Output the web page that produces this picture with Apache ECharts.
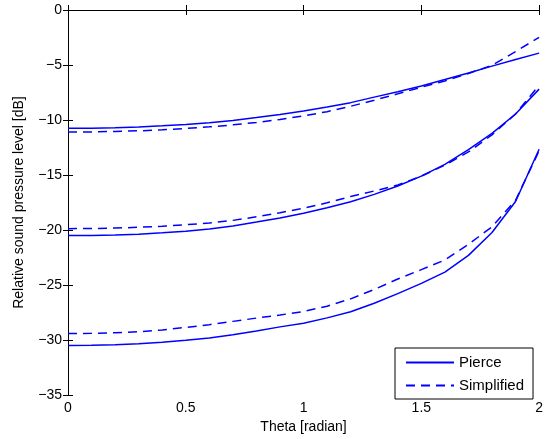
<!DOCTYPE html>
<html>
<head>
<meta charset="utf-8">
<script src="https://cdn.jsdelivr.net/npm/echarts@6/dist/echarts.min.js"></script>
<style>
html,body{margin:0;padding:0;background:#fff;}
#chart{width:546px;height:439px;}
</style>
</head>
<body>
<div id="chart"></div>
<script>
const theta = [0,0.1,0.2,0.3,0.4,0.5,0.6,0.7,0.8,0.9,1.0,1.1,1.2,1.3,1.4,1.5,1.6,1.7,1.8,1.9,2.0];
const xTicks = ['0','0.5','1','1.5','2'];
const yTicks = ['-35','-30','-25','-20','-15','-10','-5','0'];

const pierceTop = [-10.75,-10.74,-10.70,-10.63,-10.53,-10.40,-10.25,-10.05,-9.78,-9.50,-9.18,-8.82,-8.42,-7.92,-7.43,-6.90,-6.32,-5.73,-5.10,-4.50,-3.92];
const simpTop   = [-11.09,-11.08,-11.04,-10.98,-10.89,-10.77,-10.62,-10.44,-10.22,-9.95,-9.62,-9.24,-8.75,-8.20,-7.62,-7.02,-6.45,-5.77,-5.02,-3.78,-2.48];
const pierceMid = [-20.50,-20.49,-20.45,-20.37,-20.25,-20.10,-19.90,-19.63,-19.27,-18.90,-18.47,-17.98,-17.42,-16.76,-16.00,-15.10,-14.03,-12.70,-11.22,-9.45,-7.19];
const simpMid   = [-19.87,-19.86,-19.82,-19.75,-19.65,-19.52,-19.35,-19.12,-18.80,-18.42,-18.02,-17.52,-16.95,-16.45,-15.90,-15.10,-14.10,-12.90,-11.35,-9.45,-6.83];
const pierceBot = [-30.50,-30.48,-30.43,-30.34,-30.20,-30.02,-29.80,-29.52,-29.18,-28.80,-28.47,-27.98,-27.42,-26.65,-25.78,-24.85,-23.82,-22.30,-20.22,-17.40,-12.65];
const simpBot   = [-29.40,-29.39,-29.34,-29.24,-29.08,-28.85,-28.60,-28.30,-28.00,-27.72,-27.40,-26.92,-26.25,-25.40,-24.45,-23.60,-22.72,-21.30,-19.70,-17.30,-12.80];

const FONT = "'Liberation Sans', Arial, Helvetica, sans-serif";
const BLUE = '#0000ff';
const pairs = arr => theta.map((t, i) => [t, arr[i]]);
const fmtMinus = v => String(v).replace('-', '\u2212');

function lineSeries(name, arr, dashed) {
  return {
    name: name,
    type: 'line',
    data: pairs(arr),
    showSymbol: false,
    symbol: 'none',
    smooth: false,
    silent: true,
    animation: false,
    lineStyle: { color: BLUE, width: 1.5, type: dashed ? [9, 6] : 'solid' },
    itemStyle: { color: BLUE }
  };
}

const axisCommon = {
  axisLine: { show: true, lineStyle: { color: '#000', width: 1 } },
  axisTick: { show: true, inside: true, length: 5, lineStyle: { color: '#000' } },
  splitLine: { show: false }
};

const chart = echarts.init(document.getElementById('chart'), null, { renderer: 'canvas' });
chart.setOption({
  animation: false,
  backgroundColor: '#fff',
  grid: { left: 68, right: 4, top: 10, bottom: 31, containLabel: false },
  legend: {
    orient: 'vertical',
    left: 395,
    top: 348,
    padding: [7, 9, 6, 10],
    itemGap: 8,
    itemWidth: 48,
    itemHeight: 16,
    backgroundColor: '#fff',
    borderColor: '#000',
    borderWidth: 1,
    borderRadius: 0,
    itemStyle: { opacity: 0 },
    textStyle: { fontFamily: FONT, fontSize: 15, color: '#000' },
    data: ['Pierce', 'Simplified']
  },
  xAxis: [
    Object.assign({
      type: 'value', position: 'bottom', min: 0, max: 2, interval: 0.5,
      name: 'Theta [radian]', nameLocation: 'middle', nameGap: 18,
      nameTextStyle: { fontFamily: FONT, fontSize: 14, color: '#000' },
      axisLabel: { fontFamily: FONT, fontSize: 14, color: '#000', margin: 6,
        formatter: v => { const i = [0,0.5,1,1.5,2].indexOf(v); return i >= 0 ? xTicks[i] : ''; } }
    }, axisCommon),
    Object.assign({
      type: 'value', position: 'top', min: 0, max: 2, interval: 0.5,
      axisLabel: { show: false }
    }, axisCommon)
  ],
  yAxis: [
    Object.assign({
      type: 'value', position: 'left', min: -35, max: 0, interval: 5,
      name: 'Relative sound pressure level [dB]', nameLocation: 'middle', nameGap: 42,
      nameRotate: 90,
      nameTextStyle: { fontFamily: FONT, fontSize: 14, color: '#000' },
      axisLabel: { fontFamily: FONT, fontSize: 14, color: '#000', margin: 6,
        formatter: v => { const i = [-35,-30,-25,-20,-15,-10,-5,0].indexOf(v); return i >= 0 ? fmtMinus(yTicks[i]) : ''; } }
    }, axisCommon),
    Object.assign({
      type: 'value', position: 'right', min: -35, max: 0, interval: 5,
      axisLabel: { show: false }
    }, axisCommon)
  ],
  series: [
    lineSeries('Pierce', pierceTop, false),
    lineSeries('Pierce', pierceMid, false),
    lineSeries('Pierce', pierceBot, false),
    lineSeries('Simplified', simpTop, true),
    lineSeries('Simplified', simpMid, true),
    lineSeries('Simplified', simpBot, true)
  ]
});
</script>
</body>
</html>
